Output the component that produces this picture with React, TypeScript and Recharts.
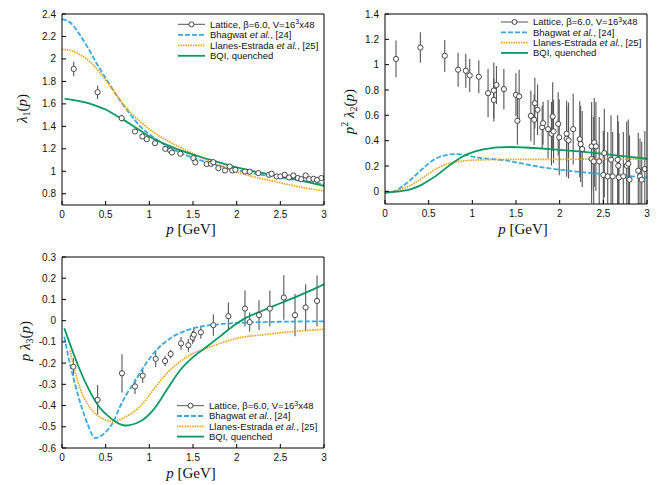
import React from "react";
import { ComposedChart, Line, Scatter, ErrorBar, XAxis, YAxis } from "recharts";

// lattice data: [p, value, error]
const lambda1Lattice = [
  [0.134, 1.911, 0.065], [0.408, 1.704, 0.06], [0.683, 1.473, 0.03], [0.836, 1.354, 0.02],
  [0.92, 1.31, 0.02], [0.97, 1.286, 0.015], [1.065, 1.25, 0.015], [1.183, 1.2, 0.015],
  [1.24, 1.185, 0.012], [1.26, 1.167, 0.012], [1.355, 1.156, 0.012], [1.504, 1.117, 0.012],
  [1.527, 1.079, 0.012], [1.656, 1.064, 0.01], [1.706, 1.067, 0.01], [1.733, 1.081, 0.01],
  [1.79, 1.028, 0.01], [1.866, 1.007, 0.01], [1.92, 1.043, 0.01], [1.95, 1.007, 0.01],
  [1.985, 1.013, 0.01], [2.095, 0.998, 0.01], [2.149, 0.996, 0.01], [2.248, 0.984, 0.01],
  [2.37, 0.969, 0.01], [2.4, 0.978, 0.01], [2.458, 0.954, 0.01], [2.5, 0.954, 0.01],
  [2.55, 0.969, 0.01], [2.6, 0.945, 0.01], [2.65, 0.963, 0.01], [2.7, 0.94, 0.01],
  [2.74, 0.93, 0.01], [2.79, 0.963, 0.01], [2.83, 0.93, 0.01], [2.88, 0.933, 0.01],
  [2.92, 0.924, 0.01], [2.97, 0.94, 0.01],
];

const lambda2Lattice = [
  [0.126, 1.045, 0.145], [0.405, 1.135, 0.12], [0.684, 1.07, 0.125], [0.837, 0.96, 0.135],
  [0.925, 0.952, 0.135], [0.97, 0.915, 0.13], [1.074, 0.905, 0.13], [1.18, 0.775, 0.19],
  [1.246, 0.796, 0.22], [1.246, 0.722, 0.17], [1.276, 0.84, 0.15], [1.361, 0.807, 0.16],
  [1.499, 0.762, 0.17], [1.516, 0.557, 0.19], [1.536, 0.749, 0.21], [1.67, 0.596, 0.2],
  [1.708, 0.565, 0.2], [1.716, 0.696, 0.2], [1.747, 0.644, 0.2], [1.8, 0.507, 0.17],
  [1.81, 0.538, 0.17], [1.867, 0.491, 0.23], [1.906, 0.455, 0.25], [1.92, 0.591, 0.27],
  [1.93, 0.473, 0.25], [1.983, 0.533, 0.25], [1.995, 0.426, 0.3], [2.08, 0.455, 0.22],
  [2.08, 0.415, 0.3], [2.102, 0.402, 0.3], [2.155, 0.491, 0.28], [2.23, 0.412, 0.3],
  [2.24, 0.373, 0.3], [2.258, 0.334, 0.3], [2.366, 0.355, 0.35], [2.366, 0.255, 0.35],
  [2.39, 0.236, 0.35], [2.396, 0.386, 0.35], [2.415, 0.355, 0.35], [2.453, 0.236, 0.35],
  [2.5, 0.129, 0.35], [2.511, 0.302, 0.35], [2.55, 0.118, 0.35], [2.588, 0.25, 0.35],
  [2.607, 0.118, 0.35], [2.664, 0.25, 0.35], [2.671, 0.202, 0.35], [2.679, 0.11, 0.35],
  [2.729, 0.118, 0.35], [2.768, 0.202, 0.35], [2.786, 0.218, 0.35], [2.8, 0.092, 0.35],
  [2.9, 0.163, 0.3], [2.92, 0.118, 0.3], [2.94, 0.092, 0.3], [2.975, 0.176, 0.3],
];

const lambda3Lattice = [
  [0.13, -0.217, 0.04], [0.408, -0.373, 0.07], [0.687, -0.248, 0.09], [0.836, -0.31, 0.035],
  [0.924, -0.259, 0.035], [1.073, -0.18, 0.04], [1.18, -0.19, 0.025], [1.244, -0.157, 0.02],
  [1.363, -0.107, 0.03], [1.447, -0.116, 0.03], [1.496, -0.079, 0.03], [1.51, -0.066, 0.035],
  [1.59, -0.055, 0.03], [1.733, -0.021, 0.05], [1.905, 0.021, 0.065], [2.095, 0.057, 0.085],
  [2.149, -0.007, 0.045], [2.256, 0.026, 0.07], [2.38, 0.057, 0.085], [2.54, 0.109, 0.105],
  [2.668, 0.026, 0.1], [2.79, 0.062, 0.11], [2.92, 0.093, 0.12],
];

// model curves: [p, value]
const bhagwat1 = [
  [0, 2.355], [0.1, 2.32], [0.2, 2.22], [0.3, 2.095], [0.4, 1.955], [0.5, 1.83], [0.6, 1.705],
  [0.7, 1.59], [0.8, 1.49], [0.9, 1.395], [1.0, 1.33], [1.1, 1.275], [1.2, 1.225], [1.4, 1.15],
  [1.6, 1.095], [1.8, 1.05], [2.0, 1.01], [2.2, 0.98], [2.4, 0.955], [2.6, 0.93], [2.8, 0.91], [3.0, 0.885],
];
const llanes1 = [
  [0, 2.085], [0.1, 2.075], [0.2, 2.04], [0.3, 1.99], [0.4, 1.91], [0.5, 1.81], [0.6, 1.705],
  [0.7, 1.6], [0.8, 1.51], [0.9, 1.44], [1.0, 1.375], [1.2, 1.275], [1.4, 1.195], [1.6, 1.12],
  [1.8, 1.055], [2.0, 0.995], [2.2, 0.95], [2.4, 0.915], [2.6, 0.88], [2.8, 0.85], [3.0, 0.825],
];
const bqi1 = [
  [0.03, 1.644], [0.1, 1.638], [0.2, 1.625], [0.3, 1.606], [0.4, 1.58], [0.5, 1.55], [0.6, 1.505],
  [0.7, 1.46], [0.8, 1.41], [0.9, 1.36], [1.0, 1.31], [1.2, 1.235], [1.4, 1.175], [1.6, 1.125],
  [1.8, 1.08], [2.0, 1.035], [2.2, 1.0], [2.4, 0.97], [2.6, 0.94], [2.8, 0.905], [3.0, 0.87],
];

const bhagwat2 = [
  [0, -0.012], [0.1, -0.002], [0.2, 0.04], [0.3, 0.095], [0.4, 0.16], [0.5, 0.22], [0.6, 0.265],
  [0.7, 0.286], [0.8, 0.294], [0.9, 0.29], [1.0, 0.274], [1.1, 0.263], [1.25, 0.254], [1.45, 0.236],
  [1.6, 0.215], [1.8, 0.19], [2.0, 0.17], [2.2, 0.155], [2.4, 0.142], [2.6, 0.13], [2.8, 0.12], [3.0, 0.11],
];
const llanes2 = [
  [0, -0.008], [0.1, 0.0], [0.2, 0.02], [0.3, 0.05], [0.4, 0.092], [0.5, 0.14], [0.6, 0.182],
  [0.7, 0.213], [0.8, 0.231], [0.9, 0.24], [1.0, 0.246], [1.2, 0.25], [1.5, 0.252], [2.0, 0.253],
  [2.5, 0.254], [3.0, 0.255],
];
const bqi2 = [
  [0, -0.008], [0.1, -0.004], [0.2, 0.003], [0.3, 0.018], [0.4, 0.045], [0.5, 0.085], [0.6, 0.13],
  [0.7, 0.185], [0.8, 0.236], [0.9, 0.279], [1.0, 0.308], [1.1, 0.327], [1.2, 0.339], [1.3, 0.347],
  [1.45, 0.35], [1.6, 0.346], [1.75, 0.34], [2.0, 0.328], [2.25, 0.313], [2.5, 0.295], [2.75, 0.276], [3.0, 0.257],
];

const bhagwat3 = [
  [0.027, -0.076], [0.1, -0.22], [0.15, -0.3], [0.2, -0.375], [0.26, -0.451], [0.3, -0.495],
  [0.38, -0.553], [0.45, -0.542], [0.5, -0.525], [0.59, -0.475], [0.664, -0.405], [0.75, -0.34],
  [0.836, -0.285], [0.924, -0.225], [1.0, -0.18], [1.1, -0.13], [1.2, -0.095], [1.3, -0.068],
  [1.43, -0.045], [1.6, -0.027], [1.8, -0.017], [2.0, -0.011], [2.5, -0.005], [3.0, -0.003],
];
const llanes3 = [
  [0.092, -0.141], [0.15, -0.24], [0.206, -0.318], [0.3, -0.397], [0.41, -0.448], [0.5, -0.468],
  [0.588, -0.475], [0.72, -0.455], [0.893, -0.405], [1.046, -0.326], [1.2, -0.248], [1.351, -0.193],
  [1.504, -0.154], [1.657, -0.13], [1.81, -0.107], [2.04, -0.08], [2.34, -0.065], [2.5, -0.057],
  [2.75, -0.048], [3.0, -0.041],
];
const bqi3 = [
  [0.027, -0.036], [0.1, -0.12], [0.19, -0.217], [0.3, -0.318], [0.41, -0.397], [0.53, -0.45],
  [0.62, -0.478], [0.72, -0.494], [0.893, -0.475], [1.046, -0.42], [1.2, -0.326], [1.35, -0.235],
  [1.5, -0.172], [1.66, -0.122], [1.81, -0.074], [1.96, -0.025], [2.1, 0.012], [2.3, 0.048],
  [2.5, 0.082], [2.7, 0.116], [2.85, 0.143], [3.0, 0.172],
];

const xTicks = [0, 0.5, 1, 1.5, 2, 2.5, 3];
const y1Ticks = [0.8, 1, 1.2, 1.4, 1.6, 1.8, 2, 2.2, 2.4];
const y2Ticks = [0, 0.2, 0.4, 0.6, 0.8, 1, 1.2, 1.4];
const y3Ticks = [-0.6, -0.5, -0.4, -0.3, -0.2, -0.1, 0, 0.1, 0.2, 0.3];

const BLUE = "#3aa8e2";
const ORANGE = "#f2a20c";
const GREEN = "#0b9a62";
const SANS = "'Liberation Sans', Arial, sans-serif";
const SERIF = "'Liberation Serif', 'Times New Roman', serif";

const curve = (rows: number[][]) => rows.map(([p, v]) => ({ p, v }));
const withErr = (rows: number[][]) => rows.map(([p, v, e]) => ({ p, v, e }));

const tickFont = { fontSize: 10, fill: "#111", fontFamily: SANS };
const frame = { stroke: "#000", strokeWidth: 1 };

// axis box sizes, used for both layers so their plot areas coincide
const LEFT_W = 30;
const RIGHT_W = 1;
const TOP_H = 1;
const BOTTOM_H = 20;

const OpenCircle = (props: any) => (
  <circle cx={props.cx} cy={props.cy} r={2.6} fill="#fff" stroke="#333" strokeWidth={0.9} />
);

function Axes({ show, yDomain, yTicks }: any) {
  const vis = show ? frame : false;
  return [
    <XAxis key="b" xAxisId="b" dataKey="p" type="number" domain={[0, 3]} ticks={xTicks} interval={0}
      allowDataOverflow height={BOTTOM_H} tickSize={-4} tickMargin={10} tick={show ? tickFont : false}
      axisLine={vis} tickLine={vis} />,
    <XAxis key="t" xAxisId="t" orientation="top" type="number" domain={[0, 3]} ticks={xTicks} interval={0}
      allowDataOverflow height={TOP_H} tickSize={-4} tick={false} axisLine={vis} tickLine={vis} />,
    <YAxis key="l" yAxisId="l" dataKey="v" type="number" domain={yDomain} ticks={yTicks} interval={0}
      allowDataOverflow width={LEFT_W} tickSize={-4} tickMargin={10} tick={show ? tickFont : false}
      axisLine={vis} tickLine={vis} />,
    <YAxis key="r" yAxisId="r" orientation="right" type="number" domain={yDomain} ticks={yTicks} interval={0}
      allowDataOverflow width={RIGHT_W} tickSize={-4} tick={false} axisLine={vis} tickLine={vis} />,
  ];
}

function Panel({ left, top, w, h, margin, yDomain, yTicks, lattice, blue, orange, green }: any) {
  const inset = `inset(${margin.top + TOP_H}px ${margin.right + RIGHT_W}px ${margin.bottom + BOTTOM_H}px ${margin.left + LEFT_W}px)`;
  return (
    <div style={{ position: "absolute", left, top, width: w, height: h }}>
      <div style={{ position: "absolute", left: 0, top: 0, clipPath: inset }}>
        <ComposedChart width={w} height={h} margin={margin}>
          {Axes({ show: false, yDomain, yTicks })}
          <Scatter xAxisId="b" yAxisId="l" data={lattice} shape={OpenCircle} isAnimationActive={false}>
            <ErrorBar dataKey="e" direction="y" width={0} stroke="#555" strokeWidth={1.1} />
          </Scatter>
          <Line xAxisId="b" yAxisId="l" data={blue} dataKey="v" type="monotone" stroke={BLUE}
            strokeWidth={1.8} strokeDasharray="5 2" dot={false} isAnimationActive={false} />
          <Line xAxisId="b" yAxisId="l" data={orange} dataKey="v" type="monotone" stroke={ORANGE}
            strokeWidth={1.7} strokeDasharray="1.5 1" dot={false} isAnimationActive={false} />
          <Line xAxisId="b" yAxisId="l" data={green} dataKey="v" type="monotone" stroke={GREEN}
            strokeWidth={1.8} dot={false} isAnimationActive={false} />
        </ComposedChart>
      </div>
      <div style={{ position: "absolute", left: 0, top: 0 }}>
        <ComposedChart width={w} height={h} margin={margin}>
          {Axes({ show: true, yDomain, yTicks })}
        </ComposedChart>
      </div>
    </div>
  );
}

function Key({ x, y, gap }: { x: number; y: number; gap: number }) {
  const tx = x + 32;
  return (
    <g fontFamily={SANS} fontSize={9.5} fill="#111">
      <line x1={x} x2={x + 27} y1={y} y2={y} stroke="#555" strokeWidth={1} />
      <circle cx={x + 13.5} cy={y} r={2.5} fill="#fff" stroke="#333" strokeWidth={0.9} />
      <text x={tx} y={y + 3.4}>
        Lattice, β=6.0, V=16<tspan dy={-3.5} fontSize={7}>3</tspan><tspan dy={3.5}>x48</tspan>
      </text>
      <line x1={x} x2={x + 27} y1={y + gap} y2={y + gap} stroke={BLUE} strokeWidth={1.8} strokeDasharray="5 2" />
      <text x={tx} y={y + gap + 3.4}>
        Bhagwat <tspan fontStyle="italic">et al.</tspan>, [24]
      </text>
      <line x1={x} x2={x + 27} y1={y + 2 * gap} y2={y + 2 * gap} stroke={ORANGE} strokeWidth={1.7} strokeDasharray="1.5 1" />
      <text x={tx} y={y + 2 * gap + 3.4}>
        Llanes-Estrada <tspan fontStyle="italic">et al.</tspan>, [25]
      </text>
      <line x1={x} x2={x + 27} y1={y + 3 * gap} y2={y + 3 * gap} stroke={GREEN} strokeWidth={1.8} />
      <text x={tx} y={y + 3 * gap + 3.4}>BQI, quenched</text>
    </g>
  );
}

function XLabel({ x, y }: { x: number; y: number }) {
  return (
    <text x={x} y={y} textAnchor="middle" fontFamily={SERIF} fontSize={15} fill="#111">
      <tspan fontStyle="italic">p</tspan> [GeV]
    </text>
  );
}

export default function App() {
  return (
    <div style={{ position: "absolute", left: 0, top: 0, width: 666, height: 485, background: "#fff" }}>
      <Panel left={0} top={0} w={333} h={240} margin={{ top: 13, right: 8, bottom: 15, left: 32 }}
        yDomain={[0.7, 2.4]} yTicks={y1Ticks} lattice={withErr(lambda1Lattice)}
        blue={curve(bhagwat1)} orange={curve(llanes1)} green={curve(bqi1)} />
      <Panel left={333} top={0} w={333} h={240} margin={{ top: 13, right: 18, bottom: 16, left: 22 }}
        yDomain={[-0.1, 1.4]} yTicks={y2Ticks} lattice={withErr(lambda2Lattice)}
        blue={curve(bhagwat2)} orange={curve(llanes2)} green={curve(bqi2)} />
      <Panel left={0} top={240} w={333} h={245} margin={{ top: 16, right: 8, bottom: 17, left: 32 }}
        yDomain={[-0.6, 0.3]} yTicks={y3Ticks} lattice={withErr(lambda3Lattice)}
        blue={curve(bhagwat3)} orange={curve(llanes3)} green={curve(bqi3)} />
      <svg width={666} height={485} style={{ position: "absolute", left: 0, top: 0, pointerEvents: "none" }}>
        <Key x={178} y={24.3} gap={10.5} />
        <Key x={501} y={22} gap={10.3} />
        <Key x={177} y={405.7} gap={10.3} />
        <XLabel x={191} y={234} />
        <XLabel x={523} y={234} />
        <XLabel x={191} y={478} />
        <g fontFamily={SERIF} fontSize={15} fill="#111" textAnchor="middle">
          <text transform="translate(27,108.5) rotate(-90)">
            <tspan fontStyle="italic">λ</tspan><tspan fontSize={10} dy={3}>1</tspan>
            <tspan dy={-3}>(</tspan><tspan fontStyle="italic">p</tspan>)
          </text>
          <text transform="translate(354,111.5) rotate(-90)">
            <tspan fontStyle="italic">p</tspan><tspan fontSize={10} dy={-6}>2</tspan>
            <tspan dy={6} fontStyle="italic"> λ</tspan><tspan fontSize={10} dy={3}>2</tspan>
            <tspan dy={-3}>(</tspan><tspan fontStyle="italic">p</tspan>)
          </text>
          <text transform="translate(30,341) rotate(-90)">
            <tspan fontStyle="italic">p λ</tspan><tspan fontSize={10} dy={3}>3</tspan>
            <tspan dy={-3}>(</tspan><tspan fontStyle="italic">p</tspan>)
          </text>
        </g>
      </svg>
    </div>
  );
}
